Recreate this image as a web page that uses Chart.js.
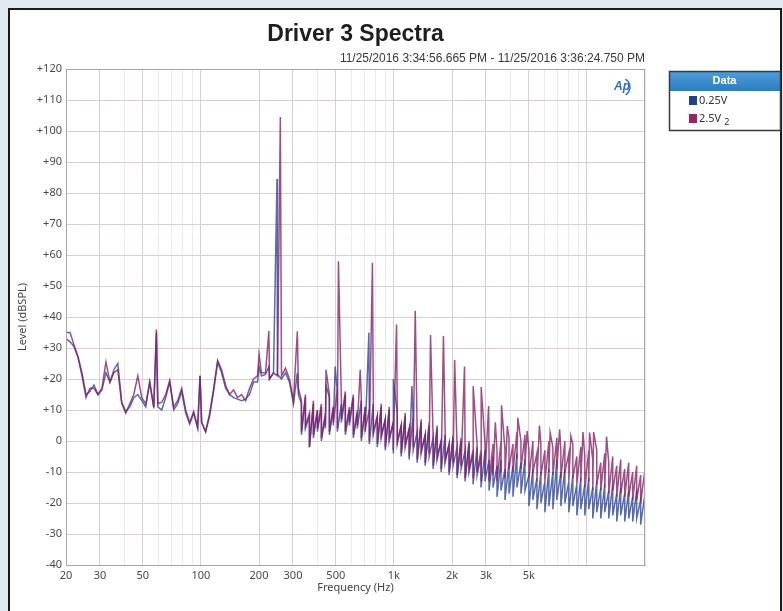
<!DOCTYPE html>
<html>
<head>
<meta charset="utf-8">
<script src="https://cdn.jsdelivr.net/npm/chart.js@4.4.1/dist/chart.umd.min.js"></script>
<style>
  html, body { margin: 0; padding: 0; background: #e3e9f0; }
  canvas { display: block; }
</style>
</head>
<body>
<canvas id="spectra" width="783" height="611"></canvas>
<script>
// 低域: 周波数 (Hz) と各系列のレベル (dBSPL)
const curveHz = [
  20, 21, 22, 23.1, 24.2, 25.4, 26.6, 27.9, 29.3, 30.7,
  32.2, 33.8, 35.4, 37.1, 38.9, 40.8, 42.8, 44.9, 47.1, 49.4,
  51.8, 54.3, 57, 59.8, 62.7, 65.7, 68.9, 72.3, 75.8, 79.5,
  83.4, 87.5, 91.7, 96.2, 100.9, 105.8, 111, 116.4, 122.1, 128,
  134.3, 140.8, 147.7, 154.9, 162.5, 170.4, 178.7, 187.4, 196.5, 206.1,
  216.1, 226.7, 237.8, 249.3, 261.5, 274.3, 287.7, 301.7, 320
];
const lowCurve = [
  33, 32, 30.5, 27, 22, 15, 16, 18, 15, 16.5,
  22, 19, 23, 25, 12.5, 9.5, 11, 14, 15, 13,
  11, 19, 10.5, 11, 10, 14, 19, 10, 12, 16,
  9, 5.5, 9, 4, 6, 3, 8, 16, 25.5, 22,
  17, 15, 14, 13.5, 13, 13.5, 15, 19, 19, 21,
  21.5, 20, 22, 21.5, 20, 22, 19, 12, 15
];
const highCurve = [
  35, 35, 31, 27, 21, 14, 17, 17, 15, 17,
  25.5, 19, 22, 23, 12, 9, 12, 15, 21, 14,
  12, 19, 11, 12, 12.5, 15, 19.5, 11, 13, 17,
  10, 6, 9.5, 4.5, 6, 3, 9, 17, 26, 23,
  18, 15, 16.5, 14, 15, 13, 17, 20, 21, 22,
  22, 20, 22, 21, 21, 23.5, 20, 13, 17
];

// 中高域: ノイズ帯の上端と下端 (dBSPL)
const bandHz = [
  331.8, 348, 365, 382.8, 401.5, 421, 441.6, 463.1, 485.7, 509.4,
  534.3, 560.3, 587.7, 616.3, 646.4, 677.9, 711, 745.7, 782, 820.2,
  860.2, 902.1, 946.1, 992.2, 1041, 1091, 1145, 1200, 1259, 1320,
  1385, 1452, 1523, 1597, 1675, 1757, 1843, 1932, 2027, 2125,
  2229, 2338, 2452, 2571, 2697, 2828, 2966, 3111, 3263, 3422,
  3588, 3763, 3947, 4139, 4341, 4553, 4775, 5008, 5252, 5508,
  5777, 6058, 6354, 6664, 6988, 7329, 7687, 8061, 8455, 8867,
  9299, 9753, 10228, 10727, 11250, 11799, 12374, 12977, 13610, 14273,
  14969, 15699, 16464, 17267, 18109, 18991, 20000
];
const lowTop = [
  12, 14, 8, 12, 10, 11, 8, 14, 11, 16,
  12, 15, 10, 14, 9, 13, 11, 10, 12, 8,
  11, 7, 10, 6, 9, 5, 8, 4, 7, 3,
  6, 2, 5, 1, 4, 0, 2, -1, 1, -2,
  0, -3, -1, -4, -2, -5, -3, -6, -5, -8,
  -6, -9, -7, -8, -4, -7, -6, -11, -9, -12,
  -10, -13, -9, -10, -6, -10, -9, -13, -11, -14,
  -12, -14, -12, -15, -13, -15, -14, -16, -14, -17,
  -15, -17, -16, -18, -16, -19, -17
];
const lowBottom = [
  2, 4, -2, 1, 3, 0, 4, 2, 5, 3,
  6, 2, 5, 1, 4, 0, 3, -1, 2, -2,
  1, -3, 0, -4, -1, -5, -2, -6, -3, -7,
  -4, -8, -5, -9, -6, -10, -7, -11, -8, -12,
  -9, -13, -10, -14, -11, -15, -13, -16, -15, -18,
  -16, -19, -17, -18, -15, -17, -16, -21, -19, -22,
  -20, -23, -21, -22, -19, -21, -20, -23, -21, -24,
  -22, -24, -22, -25, -23, -25, -23, -25, -24, -26,
  -24, -26, -25, -26, -25, -27, -26
];
const highTop = [
  13, 15, 9, 13, 10, 12, 9, 15, 11, 17,
  13, 16, 11, 15, 10, 14, 11, 10, 13, 8,
  12, 7, 11, 6, 10, 5, 9, 4, 8, 3,
  7, 2, 6, 1, 5, 0, 3, -1, 2, -2,
  1, -2, 0, -3, -1, -3, -1, -4, -1, -3,
  0, -3, 1, -1, 3, 0, 2, -3, 0, -4,
  -1, -3, 0, -2, 1, -3, 0, -4, -1, -5,
  -2, -5, -3, -6, -3, -7, -4, -7, -5, -8,
  -6, -9, -7, -10, -8, -11, -9
];
const highBottom = [
  3, 5, -2, 2, 4, 1, 5, 3, 6, 4,
  7, 3, 6, 2, 5, 1, 4, 0, 3, -1,
  2, -2, 1, -3, 0, -4, -1, -5, -2, -6,
  -3, -7, -4, -8, -5, -9, -6, -10, -7, -11,
  -8, -12, -9, -12, -10, -13, -11, -13, -11, -13,
  -10, -12, -9, -10, -6, -9, -8, -12, -10, -13,
  -11, -13, -10, -11, -9, -12, -10, -13, -12, -14,
  -13, -15, -13, -16, -14, -16, -15, -17, -16, -18,
  -17, -18, -18, -19, -19, -20, -19
];

// 高調波などのスパイク
const lowSpikeHz = [58.8, 99, 200, 225, 248, 316, 445, 496, 742, 995, 1240];
const lowSpikeDb = [35, 21, 24, 24, 84.5, 22, 18, 24, 35, 20, 17.7];
const highSpikeHz = [58.8, 99, 200, 225, 258, 316, 445, 516, 669, 774, 1032, 1290, 1548, 1806, 2064, 2322,
  2580, 2838, 3096, 3354, 3612, 3870, 4386, 4902, 5676, 6450, 7224, 8256, 9546, 10320, 10836, 12642];
const highSpikeDb = [36, 21, 28, 35.5, 104.5, 35.4, 23, 58, 23, 57.5, 37.6, 42, 34.2, 33.9, 26.1, 24,
  17.7, 17.4, 11.3, 6, 11.5, 4.8, 7.5, 3.2, 5, 2.7, 3.8, 1.6, 2.9, 2.7, 2.9, 1.4];

// 軸目盛り
const gridHz = [20, 30, 40, 50, 60, 70, 80, 90, 100, 200, 300, 400, 500, 600, 700, 800, 900,
  1000, 2000, 3000, 4000, 5000, 6000, 7000, 8000, 9000, 10000, 20000];
const xTickHz = [20, 30, 50, 100, 200, 300, 500, 1000, 2000, 3000, 5000, 10000];
const xTickText = ['20', '30', '50', '100', '200', '300', '500', '1k', '2k', '3k', '5k', ''];

const seriesNames = ['0.25V', '2.5V'];

// 低域カーブ + ノイズ帯 + スパイクを周波数順にまとめる
function buildSeries(curve, top, bottom, spikeHz, spikeDb) {
  const pts = curveHz.map((f, i) => ({ x: f, y: curve[i] }));
  bandHz.forEach((f, i) => {
    pts.push({ x: f, y: top[i] });
    pts.push({ x: f, y: bottom[i] });
  });
  spikeHz.forEach((f, i) => pts.push({ x: f, y: spikeDb[i] }));
  return pts.sort((a, b) => a.x - b.x);
}

const framePlugin = {
  id: 'frame',
  beforeDraw(chart) {
    const ctx = chart.ctx;
    ctx.save();
    ctx.fillStyle = '#e3e9f0';
    ctx.fillRect(0, 0, chart.width, chart.height);
    ctx.fillStyle = '#ffffff';
    ctx.fillRect(9, 9, 772, chart.height - 9);
    ctx.strokeStyle = '#1b1b1b';
    ctx.lineWidth = 2;
    ctx.beginPath();
    ctx.moveTo(9, chart.height);
    ctx.lineTo(9, 9);
    ctx.lineTo(781, 9);
    ctx.lineTo(781, chart.height);
    ctx.stroke();
    ctx.restore();
  },
  afterDraw(chart) {
    const ctx = chart.ctx;
    const a = chart.chartArea;
    ctx.save();
    // プロット枠
    ctx.strokeStyle = '#a6a6a6';
    ctx.lineWidth = 1;
    ctx.strokeRect(a.left + 0.5, a.top + 0.5, a.right - a.left - 1, a.bottom - a.top);

    // AP ロゴ
    ctx.fillStyle = '#2f6fc4';
    ctx.strokeStyle = '#2f6fc4';
    ctx.font = 'italic bold 12px "Liberation Sans"';
    ctx.textBaseline = 'middle';
    ctx.fillText('Ap', a.right - 31, 87);
    ctx.lineWidth = 1.5;
    ctx.beginPath();
    ctx.arc(a.right - 24, 87, 9, -Math.PI / 3, Math.PI / 3);
    ctx.stroke();

    // 凡例ボックス
    const lx = 669, ly = 71, lw = 111, lh = 59;
    const grad = ctx.createLinearGradient(0, ly, 0, ly + 20);
    grad.addColorStop(0, '#4f9edb');
    grad.addColorStop(1, '#2d7cc2');
    ctx.fillStyle = '#ffffff';
    ctx.fillRect(lx, ly, lw, lh);
    ctx.fillStyle = grad;
    ctx.fillRect(lx, ly, lw, 20);
    ctx.strokeStyle = '#3a3a3a';
    ctx.strokeRect(lx + 0.5, ly + 0.5, lw, lh);
    ctx.fillStyle = '#ffffff';
    ctx.font = 'bold 11px "Liberation Sans"';
    ctx.textAlign = 'center';
    ctx.fillText('Data', lx + lw / 2, ly + 10);
    ctx.textAlign = 'left';
    const swatch = ['#263f8a', '#9b2266'];
    chart.data.datasets.forEach((ds, i) => {
      const y = ly + 30 + i * 18;
      ctx.fillStyle = swatch[i];
      ctx.fillRect(lx + 20, y - 5, 8, 9);
      ctx.fillStyle = '#333333';
      ctx.font = '11px "Noto Sans"';
      ctx.fillText(ds.label, lx + 30, y);
      if (ds.sub) {
        const w = ctx.measureText(ds.label).width;
        ctx.font = '9px "Noto Sans"';
        ctx.fillText(ds.sub, lx + 33 + w, y + 3);
      }
    });
    ctx.restore();
  }
};

const ctx = document.getElementById('spectra').getContext('2d');
new Chart(ctx, {
  type: 'line',
  data: {
    datasets: [{
      label: seriesNames[0],
      data: buildSeries(lowCurve, lowTop, lowBottom, lowSpikeHz, lowSpikeDb),
      borderColor: 'rgba(45, 70, 155, 0.8)',
      borderWidth: 1.5,
      pointRadius: 0,
      order: 2
    }, {
      label: seriesNames[1],
      sub: '2',
      data: buildSeries(highCurve, highTop, highBottom, highSpikeHz, highSpikeDb),
      borderColor: 'rgba(130, 30, 100, 0.78)',
      borderWidth: 1.5,
      pointRadius: 0,
      order: 1
    }]
  },
  plugins: [framePlugin],
  options: {
    responsive: false,
    animation: false,
    layout: { padding: { left: 0, right: 138, top: 0, bottom: 0 } },
    scales: {
      x: {
        type: 'logarithmic',
        min: 20,
        max: 20000,
        afterBuildTicks: (scale) => { scale.ticks = gridHz.map(v => ({ value: v })); },
        afterFit: (scale) => { scale.height = 46; },
        grid: {
          drawTicks: false,
          color: (c) => xTickHz.includes(c.tick && c.tick.value) ? '#dacfcf' : '#efeaea'
        },
        border: { color: '#a6a6a6' },
        ticks: {
          autoSkip: false,
          maxRotation: 0,
          padding: 4,
          color: '#4a4a4a',
          font: { family: 'Noto Sans', size: 11 },
          callback: (v) => {
            const i = xTickHz.indexOf(v);
            return i >= 0 ? xTickText[i] : '';
          }
        },
        title: {
          display: true,
          text: 'Frequency (Hz)',
          color: '#444444',
          font: { family: 'Noto Sans', size: 11 },
          padding: { top: 0, bottom: 17 }
        }
      },
      y: {
        min: -40,
        max: 120,
        afterFit: (scale) => { scale.width = 66; },
        grid: { drawTicks: false, color: '#dccfcf' },
        border: { color: '#a6a6a6' },
        ticks: {
          stepSize: 10,
          padding: 4,
          color: '#4a4a4a',
          font: { family: 'Noto Sans', size: 11 },
          callback: (v) => (v > 0 ? '+' + v : String(v))
        },
        title: {
          display: true,
          text: 'Level (dBSPL)',
          color: '#444444',
          font: { family: 'Noto Sans', size: 11 },
          padding: { top: 16, bottom: 0 }
        }
      }
    },
    plugins: {
      legend: { display: false },
      tooltip: { enabled: false },
      title: {
        display: true,
        fullSize: false,
        text: 'Driver 3 Spectra',
        color: '#1e1e1e',
        font: { family: 'Liberation Sans', size: 23, weight: 'bold' },
        padding: { top: 21, bottom: 0 }
      },
      subtitle: {
        display: true,
        fullSize: false,
        align: 'end',
        text: '11/25/2016 3:34:56.665 PM - 11/25/2016 3:36:24.750 PM',
        color: '#3a3a3a',
        font: { family: 'Liberation Sans', size: 12 },
        padding: { top: 2.5, bottom: 3.5 }
      }
    }
  }
});
</script>
</body>
</html>
